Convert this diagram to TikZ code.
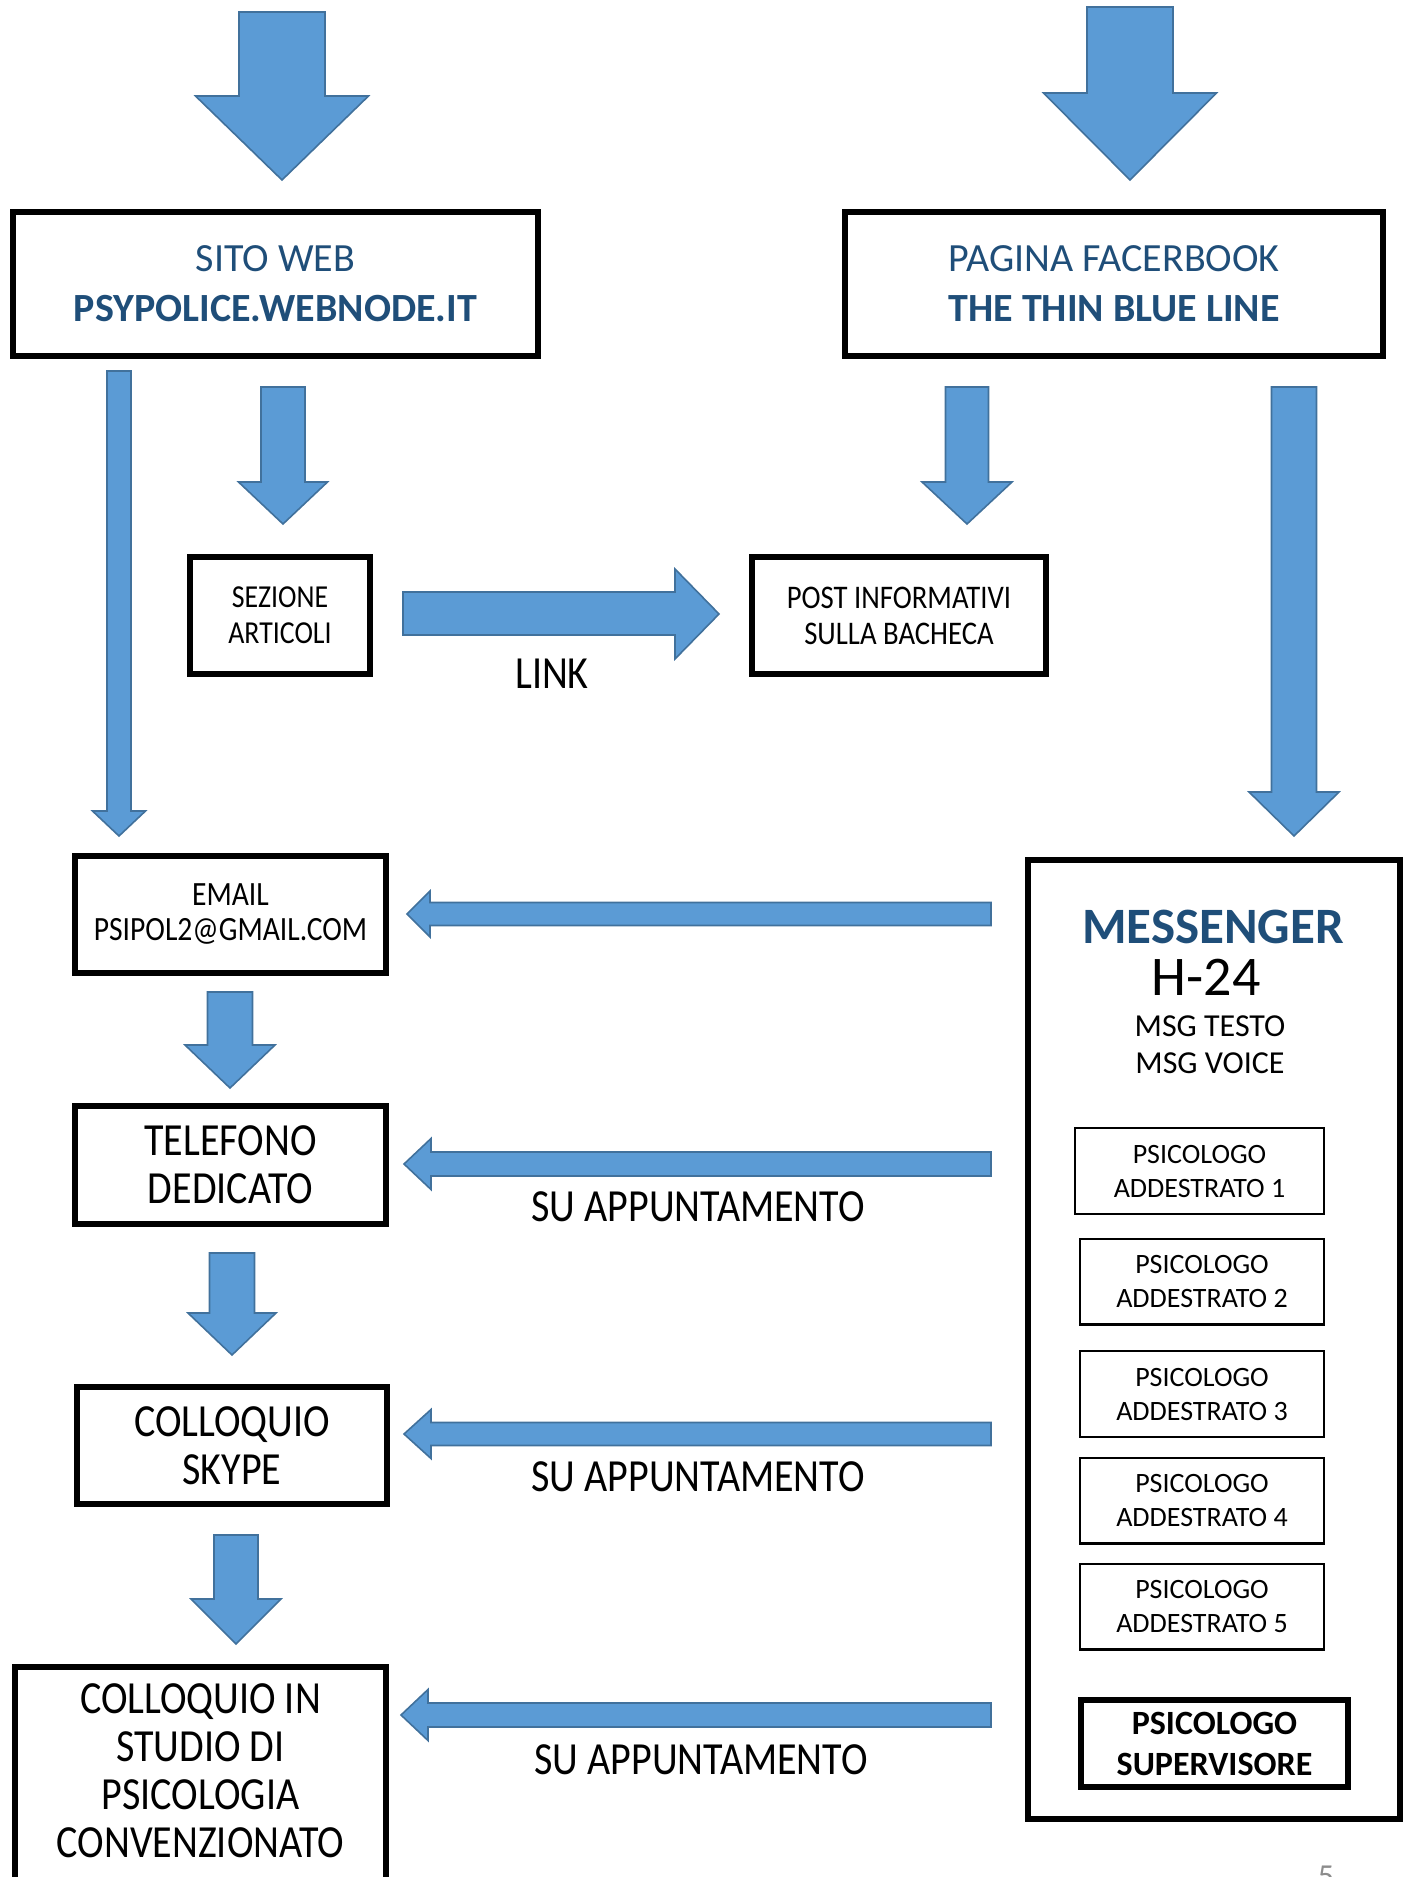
\documentclass[tikz,border=0pt]{standalone}
\usepackage{fontspec}
\setmainfont{Carlito}
\newfontfamily\narrowfont[FakeStretch=0.87]{Carlito}
\definecolor{arrowfill}{HTML}{5B9BD5}
\definecolor{arrowline}{HTML}{41719C}
\definecolor{titleblue}{HTML}{1F4E79}
\definecolor{pagegray}{HTML}{8C8C8C}
\tikzset{
  blockarrow/.style={fill=arrowfill, draw=arrowline, line width=0.8pt, line join=miter},
  bigbox/.style={draw, line width=3pt, inner sep=0pt, align=center},
  thinbox/.style={draw, line width=1.2pt, inner sep=0pt, align=center,
    minimum width=121.8pt, minimum height=42.8pt, font=\fontsize{14}{17}\selectfont},
}
\newcommand{\downblock}[6]{\path[blockarrow] ({#1-#5},#2) -- ({#1+#5},#2) -- ({#1+#5},#3) -- ({#1+#6},#3) -- (#1,#4) -- ({#1-#6},#3) -- ({#1-#5},#3) -- cycle;}
\newcommand{\leftblock}[6]{\path[blockarrow] (#2,{#1-#5}) -- (#3,{#1-#5}) -- (#3,{#1-#6}) -- (#4,#1) -- (#3,{#1+#6}) -- (#3,{#1+#5}) -- (#2,{#1+#5}) -- cycle;}
\begin{document}
\begin{tikzpicture}[x=0.5pt, y=-0.5pt]
\useasboundingbox (0,0) rectangle (1412,1877);
\node[bigbox, minimum width=262.5pt, minimum height=72pt, text=titleblue, font=\fontsize{20}{25}\selectfont] (sito) at (275.5,284) {SITO WEB\\\textbf{PSYPOLICE.WEBNODE.IT}};
\node[bigbox, minimum width=269pt, minimum height=72pt, text=titleblue, font=\fontsize{20}{25}\selectfont] (fb) at (1114,284) {PAGINA FACERBOOK\\\textbf{THE THIN BLUE LINE}};
\node[bigbox, minimum width=90pt, minimum height=58.5pt, font=\narrowfont\fontsize{16}{18}\selectfont] (sez) at (280,615.5) {SEZIONE\\ARTICOLI};
\node[bigbox, minimum width=147pt, minimum height=58.5pt, font=\narrowfont\fontsize{16.5}{18}\selectfont] (post) at (899,615.5) {POST INFORMATIVI\\SULLA BACHECA};
\node[bigbox, minimum width=155.5pt, minimum height=58.5pt, font=\narrowfont\fontsize{17}{17.5}\selectfont] (email) at (230.5,914.5) {EMAIL\\PSIPOL2@GMAIL.COM};
\node[bigbox, minimum width=155.5pt, minimum height=59pt, font=\narrowfont\fontsize{23}{24}\selectfont] (tel) at (230.5,1165) {TELEFONO\\DEDICATO};
\node[bigbox, minimum width=155pt, minimum height=58.5pt, font=\narrowfont\fontsize{23}{24}\selectfont] (skype) at (232,1445.5) {COLLOQUIO\\SKYPE};
\node[bigbox, minimum width=185.5pt, minimum height=150pt, anchor=north] (studiobox) at (200.5,1664) {};
\node[align=center, inner sep=0pt, font=\narrowfont\fontsize{23}{24}\selectfont] (studio) at (200.5,1771) {COLLOQUIO IN\\STUDIO DI\\PSICOLOGIA\\CONVENZIONATO};
\node[bigbox, minimum width=186pt, minimum height=479.5pt] (msg) at (1214,1339.5) {};
\node[anchor=base, inner sep=0pt, text=titleblue, font=\fontsize{25.5}{30}\selectfont\bfseries] (msgtitle) at (1213,943) {MESSENGER};
\node[anchor=base, inner sep=0pt, font=\fontsize{28}{30}\selectfont] (msgh) at (1206,995) {H-24};
\node[anchor=base, inner sep=0pt, font=\fontsize{16}{18}\selectfont] (msgtesto) at (1210,1036) {MSG TESTO};
\node[anchor=base, inner sep=0pt, font=\fontsize{16}{18}\selectfont] (msgvoice) at (1210,1073) {MSG VOICE};
\node[thinbox, minimum width=124.3pt] (psi1) at (1199.5,1171) {PSICOLOGO\\ADDESTRATO 1};
\node[thinbox] (psi2) at (1202,1281.5) {PSICOLOGO\\ADDESTRATO 2};
\node[thinbox] (psi3) at (1202,1394) {PSICOLOGO\\ADDESTRATO 3};
\node[thinbox] (psi4) at (1202,1500.5) {PSICOLOGO\\ADDESTRATO 4};
\node[thinbox] (psi5) at (1202,1606.5) {PSICOLOGO\\ADDESTRATO 5};
\node[bigbox, minimum width=133.5pt, minimum height=43.5pt, font=\fontsize{17}{20.5}\selectfont\bfseries] (sup) at (1214.5,1743.5) {PSICOLOGO\\SUPERVISORE};
\downblock{282}{12}{96}{180}{43}{86.5}
\downblock{1130}{7}{93}{180}{43}{86.5}
\downblock{119}{371}{811}{836}{12}{26.5}
\downblock{283}{387}{482}{524}{22}{44.5}
\downblock{967}{387}{482}{524}{21.5}{45}
\downblock{1294}{387}{792}{836}{22.5}{45}
\downblock{230}{992}{1045}{1088}{22.5}{45}
\downblock{232}{1253}{1313}{1355}{22.5}{44}
\downblock{236}{1535}{1599}{1644}{22}{45}
\path[blockarrow] (403,592) -- (675,592) -- (675,569) -- (719,614) -- (675,659) -- (675,635) -- (403,635) -- cycle;
\leftblock{914}{991}{430}{407}{11.5}{23}
\leftblock{1164}{991}{431}{404}{12}{25.5}
\leftblock{1434}{991}{431}{404}{11.5}{24.5}
\leftblock{1715}{991}{428}{401}{12}{25.5}
\node[anchor=base, inner sep=0pt, font=\narrowfont\fontsize{23}{24}\selectfont] (link) at (552,688) {LINK};
\node[anchor=base, inner sep=0pt, font=\narrowfont\fontsize{23}{24}\selectfont] (appt1) at (698,1221) {SU APPUNTAMENTO};
\node[anchor=base, inner sep=0pt, font=\narrowfont\fontsize{23}{24}\selectfont] (appt2) at (698,1491) {SU APPUNTAMENTO};
\node[anchor=base, inner sep=0pt, font=\narrowfont\fontsize{23}{24}\selectfont] (appt3) at (701,1774) {SU APPUNTAMENTO};
\node[anchor=north, inner sep=0pt, text=pagegray, font=\fontsize{16}{18}\selectfont] (pagenum) at (1326,1866) {5};
\end{tikzpicture}
\end{document}
